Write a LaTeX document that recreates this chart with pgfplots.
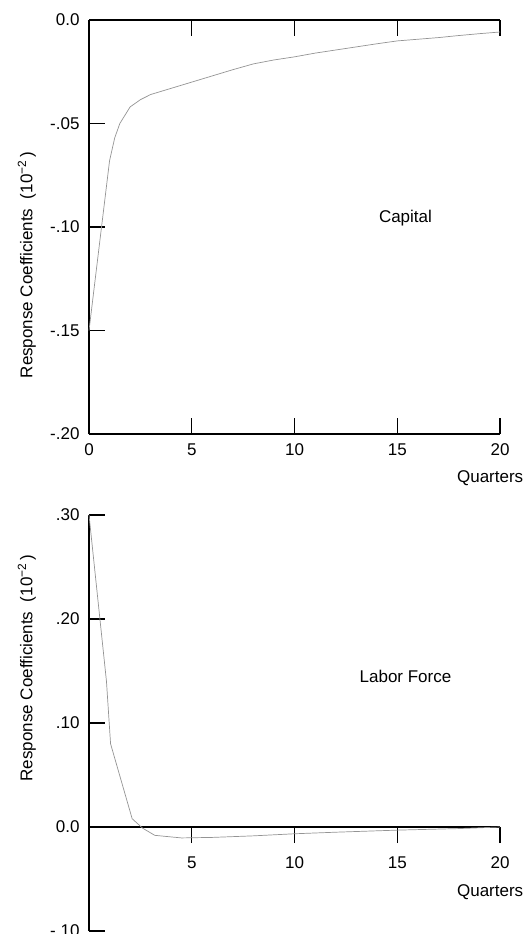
\documentclass[border=0pt]{standalone}
\usepackage{fontspec}
\setmainfont{Liberation Sans}
\usepackage{pgfplots}
\pgfplotsset{compat=1.18}
\pgfplotsset{
  base/.style={
    scale only axis, width=411pt,
    anchor=south west,
    xmin=0, xmax=20,
    axis line style={line width=1.1pt},
    every tick/.style={black, line width=1.1pt},
    major tick length=16pt,
    tick label style={font=\fontsize{17}{19}\selectfont},
    label style={font=\fontsize{17}{19}\selectfont},
    yticklabel style={xshift=-6pt},
    /pgf/number format/assume math mode=true,
    clip=false,
  }
}
\begin{document}
\begin{tikzpicture}
\useasboundingbox (0pt,0pt) rectangle (524pt,-934pt);
% ---------- Capital ----------
\begin{axis}[base, at={(89pt,-434pt)}, height=414pt,
  ymin=-0.2, ymax=0,
  axis y line*=left,
  tick align=inside,
  xtick={0,5,10,15,20}, xticklabels={0,5,10,15,20},
  xticklabel style={yshift=-6pt},
  ytick={-0.2,-0.15,-0.1,-0.05,0},
  yticklabels={-.20,-.15,-.10,-.05,0.0},
  xlabel={Quarters},
  xlabel style={at={(axis description cs:0.976,-0.106)}, anchor=center},
  ylabel={Response Coefficients\ \ (10\textsuperscript{−2}\,)},
  ylabel style={at={(axis description cs:-0.151,0.408)}, anchor=center},
]
\addplot[black!42, line width=0.7pt] coordinates {
(0,-0.150) (1.0,-0.068) (1.25,-0.057) (1.5,-0.050) (2.0,-0.042) (2.5,-0.0385)
(3,-0.036) (4,-0.033) (5,-0.030) (6,-0.027) (7,-0.024) (8,-0.0212) (9,-0.0193)
(10,-0.0178) (11,-0.016) (12,-0.0145) (13,-0.013) (14,-0.0115) (15,-0.0101)
(16,-0.0093) (17,-0.0085) (18,-0.0075) (19,-0.0066) (20,-0.0058)
};
\node[font=\fontsize{17}{19}\selectfont] at (axis cs:15.4,-0.0957) {Capital};
\end{axis}
% ---------- Labor Force ----------
\begin{axis}[base, at={(89pt,-931pt)}, height=416pt,
  ymin=-0.1, ymax=0.3,
  axis y line*=left,
  axis x line*=middle,
  ytick align=inside,
  xtick align=outside,
  xtick={5,10,15,20}, xticklabels={5,10,15,20},
  xticklabel style={yshift=-10pt},
  ytick={-0.1,0,0.1,0.2,0.3},
  yticklabels={-.10,0.0,.10,.20,.30},
  xlabel={Quarters},
  xlabel style={at={(axis description cs:0.976,0.094)}, anchor=center},
  ylabel={Response Coefficients\ \ (10\textsuperscript{−2}\,)},
  ylabel style={at={(axis description cs:-0.151,0.632)}, anchor=center},
]
\addplot[black!42, line width=0.7pt] coordinates {
(0,0.300) (0.85,0.140) (1.05,0.080) (2.1,0.008) (2.6,-0.001) (3.2,-0.008)
(4.5,-0.0105) (6,-0.010) (8,-0.0085) (10,-0.0065) (12,-0.005) (15,-0.003)
(18,-0.0015) (20,0.0)
};
\node[font=\fontsize{17}{19}\selectfont] at (axis cs:15.4,0.145) {Labor Force};
\end{axis}
\end{tikzpicture}
\end{document}
